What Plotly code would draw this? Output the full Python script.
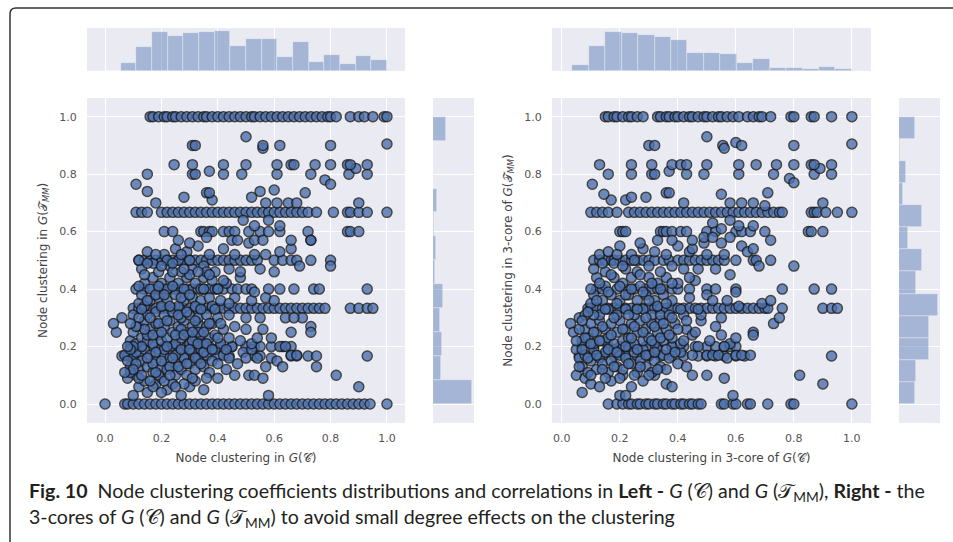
import plotly.graph_objects as go

# ---------------- DATA ----------------
# Left panel: x = node clustering in G(C), y = node clustering in G(T_MM)
left_rows = {
    1.0: [0.16,0.17,0.19,0.21,0.22,0.24,0.25,0.27,0.29,0.31,0.33,0.35,0.36,0.38,0.40,0.42,0.44,0.46,0.48,0.50,0.52,0.53,0.55,0.57,0.59,0.61,0.63,0.65,0.67,0.69,0.71,0.73,0.75,0.77,0.79,0.80,0.82,0.87,0.90,0.92,0.95,0.99,1.0],
    0.0: [0.0,0.07,0.08,0.10,0.12,0.14,0.16,0.18,0.20,0.22,0.24,0.26,0.28,0.30,0.32,0.34,0.36,0.38,0.40,0.42,0.44,0.46,0.48,0.50,0.52,0.54,0.56,0.58,0.60,0.62,0.64,0.66,0.68,0.70,0.72,0.74,0.76,0.78,0.80,0.82,0.84,0.86,0.88,0.90,0.92,0.94,1.0],
    0.667: [0.11,0.13,0.15,0.20,0.22,0.24,0.26,0.28,0.30,0.32,0.34,0.36,0.38,0.40,0.42,0.44,0.46,0.48,0.50,0.52,0.54,0.56,0.58,0.60,0.62,0.64,0.66,0.68,0.70,0.72,0.75,0.81,0.86,0.87,0.90,0.93,1.0],
    0.5: [0.12,0.14,0.16,0.18,0.20,0.22,0.24,0.26,0.28,0.30,0.32,0.34,0.36,0.38,0.40,0.42,0.44,0.46,0.48,0.50,0.52,0.54,0.60,0.63,0.66,0.68,0.73,0.80],
    0.333: [0.10,0.12,0.14,0.16,0.18,0.20,0.22,0.24,0.26,0.28,0.30,0.32,0.34,0.36,0.38,0.40,0.42,0.44,0.46,0.48,0.50,0.52,0.54,0.56,0.58,0.60,0.62,0.64,0.66,0.68,0.70,0.72,0.74,0.76,0.78,0.87,0.90,0.93,0.95],
    0.4: [0.11,0.14,0.17,0.19,0.21,0.23,0.25,0.27,0.29,0.31,0.33,0.35,0.37,0.39,0.40,0.42,0.45,0.47,0.50,0.52,0.58,0.62,0.67,0.74,0.76,0.93],
    0.6: [0.21,0.24,0.34,0.35,0.37,0.38,0.42,0.44,0.46,0.51,0.55,0.58,0.62,0.72,0.86,0.87,0.90],
    0.2: [0.09,0.13,0.17,0.21,0.25,0.29,0.33,0.37,0.41,0.45,0.50,0.53,0.55,0.59,0.63,0.66],
    0.167: [0.06,0.08,0.10,0.12,0.28,0.32,0.36,0.40,0.44,0.53,0.55,0.66,0.68,0.72,0.75,0.93],
}
left_cloud = [
    (0.10,0.03),(0.12,0.06),(0.15,0.04),(0.18,0.07),(0.22,0.05),(0.27,0.03),(0.30,0.06),(0.08,0.09),(0.11,0.10),(0.14,0.08),
    (0.20,0.09),(0.25,0.10),(0.35,0.05),(0.40,0.09),(0.46,0.10),(0.51,0.10),(0.53,0.10),(0.56,0.09),(0.58,0.03),
    (0.07,0.17),(0.09,0.13),(0.10,0.16),(0.12,0.12),(0.13,0.15),(0.14,0.19),(0.15,0.13),(0.16,0.17),(0.17,0.11),(0.18,0.15),
    (0.19,0.19),(0.20,0.13),(0.21,0.17),(0.22,0.12),(0.23,0.16),(0.24,0.20),(0.25,0.14),(0.26,0.18),(0.27,0.12),(0.28,0.16),
    (0.29,0.20),(0.30,0.14),(0.31,0.18),(0.32,0.12),(0.33,0.16),(0.34,0.19),(0.35,0.13),(0.36,0.17),(0.37,0.11),(0.38,0.15),
    (0.39,0.19),(0.40,0.14),(0.42,0.17),(0.43,0.12),(0.44,0.16),(0.45,0.20),(0.47,0.14),(0.49,0.18),(0.50,0.16),(0.52,0.19),
    (0.54,0.16),(0.57,0.13),(0.59,0.16),(0.61,0.15),(0.63,0.13),(0.66,0.17),(0.68,0.17),(0.75,0.13),(0.82,0.10),(0.90,0.06),
    (0.04,0.25),(0.03,0.28),(0.06,0.30),(0.09,0.22),(0.10,0.25),(0.11,0.21),(0.12,0.27),(0.13,0.23),(0.14,0.29),(0.15,0.22),
    (0.16,0.26),(0.17,0.21),(0.18,0.28),(0.19,0.24),(0.20,0.22),(0.21,0.27),(0.22,0.23),(0.23,0.29),(0.24,0.25),(0.25,0.21),
    (0.26,0.27),(0.27,0.23),(0.28,0.29),(0.29,0.25),(0.30,0.21),(0.31,0.27),(0.32,0.23),(0.33,0.28),(0.34,0.24),(0.35,0.21),
    (0.36,0.27),(0.37,0.23),(0.38,0.28),(0.39,0.24),(0.41,0.21),(0.42,0.26),(0.44,0.23),(0.46,0.27),(0.48,0.22),(0.50,0.26),
    (0.52,0.21),(0.54,0.23),(0.56,0.26),(0.59,0.23),(0.62,0.20),(0.64,0.20),(0.66,0.25),(0.70,0.30),(0.73,0.27),(0.73,0.25),
    (0.10,0.31),(0.12,0.35),(0.13,0.38),(0.14,0.42),(0.15,0.31),(0.16,0.36),(0.17,0.44),(0.18,0.32),(0.19,0.37),(0.20,0.42),
    (0.21,0.31),(0.22,0.36),(0.23,0.44),(0.24,0.32),(0.25,0.38),(0.26,0.42),(0.27,0.30),(0.28,0.36),(0.29,0.44),(0.30,0.31),
    (0.31,0.37),(0.32,0.42),(0.33,0.30),(0.34,0.36),(0.35,0.44),(0.36,0.31),(0.37,0.37),(0.38,0.43),(0.40,0.30),(0.41,0.36),
    (0.43,0.42),(0.44,0.31),(0.46,0.37),(0.48,0.44),(0.50,0.30),(0.52,0.36),(0.53,0.39),(0.55,0.30),(0.57,0.37),(0.60,0.36),
    (0.64,0.30),(0.67,0.30),
    (0.13,0.47),(0.15,0.53),(0.17,0.49),(0.19,0.46),(0.21,0.52),(0.23,0.48),(0.25,0.54),(0.27,0.46),(0.29,0.53),(0.31,0.47),
    (0.33,0.55),(0.35,0.48),(0.37,0.52),(0.39,0.46),(0.42,0.54),(0.44,0.47),(0.46,0.52),(0.48,0.46),(0.51,0.56),(0.53,0.52),
    (0.55,0.47),(0.57,0.52),(0.60,0.46),(0.62,0.53),(0.66,0.54),(0.69,0.48),(0.73,0.57),(0.80,0.48),
    (0.11,0.18),(0.13,0.20),(0.15,0.24),(0.17,0.14),(0.19,0.10),(0.21,0.19),(0.23,0.13),(0.25,0.17),(0.27,0.26),(0.29,0.10),
    (0.31,0.22),(0.33,0.25),(0.35,0.18),(0.16,0.40),(0.18,0.38),(0.20,0.34),(0.22,0.40),(0.24,0.46),(0.26,0.34),(0.28,0.40),
    (0.30,0.45),(0.32,0.34),(0.34,0.40),(0.36,0.46),(0.38,0.34),(0.40,0.40),(0.14,0.34),(0.12,0.30),(0.10,0.20),(0.08,0.15),
    (0.09,0.11),(0.12,0.09),(0.17,0.06),(0.20,0.04),(0.24,0.07),(0.28,0.07),(0.32,0.08),(0.36,0.09),(0.26,0.50),(0.30,0.50),
    (0.22,0.50),(0.18,0.52),
    (0.09,0.19),(0.11,0.14),(0.13,0.10),(0.14,0.26),(0.15,0.16),(0.16,0.08),(0.16,0.30),(0.17,0.24),(0.18,0.11),(0.18,0.18),
    (0.19,0.28),(0.19,0.41),(0.20,0.15),(0.20,0.25),(0.21,0.08),(0.21,0.38),(0.22,0.20),(0.22,0.29),(0.23,0.10),(0.23,0.34),
    (0.24,0.16),(0.24,0.41),(0.25,0.24),(0.25,0.06),(0.26,0.13),(0.26,0.31),(0.27,0.19),(0.27,0.37),(0.28,0.24),(0.28,0.47),
    (0.29,0.14),(0.29,0.32),(0.30,0.19),(0.30,0.38),(0.31,0.09),(0.31,0.25),(0.32,0.16),(0.32,0.29),(0.33,0.21),(0.33,0.46),
    (0.34,0.14),(0.34,0.33),(0.35,0.25),(0.35,0.40),(0.36,0.21),(0.37,0.28),(0.37,0.45),(0.38,0.19),(0.39,0.33),(0.40,0.23),
    (0.41,0.28),(0.42,0.43),(0.43,0.19),(0.44,0.35),(0.12,0.41),(0.13,0.33),(0.14,0.45),(0.15,0.36),(0.11,0.27),(0.10,0.12),
    (0.09,0.28),(0.08,0.20),(0.07,0.11),(0.12,0.50),(0.15,0.49),(0.20,0.48),(0.24,0.49),(0.27,0.52),
    (0.26,0.57),(0.30,0.56),(0.36,0.58),(0.45,0.57),(0.47,0.57),(0.53,0.57),(0.56,0.57),(0.62,0.62),(0.66,0.57),(0.73,0.57),
    (0.18,0.70),(0.28,0.72),(0.38,0.71),(0.52,0.72),(0.55,0.74),(0.57,0.70),(0.61,0.70),(0.65,0.70),(0.68,0.70),(0.90,0.70),
    (0.49,0.64),(0.53,0.62),(0.58,0.64),(0.15,0.74),(0.36,0.735),(0.37,0.735),(0.60,0.745),(0.71,0.735),(0.11,0.765),(0.78,0.78),
    (0.80,0.765),(0.15,0.80),(0.31,0.80),(0.32,0.80),(0.37,0.81),(0.42,0.80),(0.485,0.80),(0.61,0.80),(0.73,0.80),(0.865,0.80),
    (0.93,0.80),(0.89,0.82),(0.245,0.833),(0.31,0.833),(0.42,0.833),(0.50,0.833),(0.61,0.833),(0.66,0.833),(0.67,0.833),
    (0.745,0.833),(0.80,0.833),(0.86,0.833),(0.87,0.833),(0.93,0.833),(0.31,0.90),(0.32,0.90),(0.56,0.89),(0.56,0.90),
    (0.62,0.90),(0.80,0.90),(1.0,0.905),(0.50,0.93),
]

# Right panel: x = node clustering in 3-core of G(C), y = 3-core of G(T_MM)
right_rows = {
    1.0: [0.15,0.16,0.18,0.19,0.21,0.23,0.24,0.26,0.28,0.33,0.34,0.36,0.37,0.39,0.40,0.42,0.44,0.45,0.47,0.49,0.50,0.52,0.54,0.55,0.57,0.59,0.61,0.64,0.66,0.68,0.69,0.72,0.79,0.80,0.86,0.87,0.93,1.0],
    0.0: [0.16,0.19,0.21,0.23,0.24,0.26,0.27,0.29,0.30,0.32,0.33,0.35,0.36,0.38,0.39,0.41,0.42,0.44,0.45,0.47,0.48,0.55,0.56,0.59,0.60,0.64,0.65,0.71,0.79,0.80,1.0],
    0.667: [0.10,0.12,0.14,0.16,0.19,0.23,0.25,0.27,0.29,0.31,0.33,0.35,0.37,0.39,0.41,0.43,0.45,0.47,0.49,0.51,0.53,0.55,0.57,0.59,0.61,0.63,0.65,0.67,0.69,0.71,0.73,0.75,0.76,0.86,0.87,0.88,0.91,0.95,1.0],
    0.5: [0.11,0.13,0.15,0.17,0.18,0.20,0.22,0.24,0.26,0.28,0.30,0.32,0.35,0.37,0.40,0.42,0.44,0.46,0.48,0.50,0.52,0.54,0.56,0.60,0.66,0.67,0.72],
    0.333: [0.09,0.10,0.12,0.14,0.16,0.18,0.20,0.22,0.24,0.26,0.28,0.30,0.32,0.34,0.36,0.38,0.40,0.42,0.44,0.46,0.48,0.50,0.52,0.54,0.56,0.58,0.60,0.62,0.64,0.66,0.68,0.70,0.71,0.76,0.90,0.93,0.95],
    0.6: [0.20,0.21,0.22,0.34,0.35,0.36,0.38,0.41,0.43,0.50,0.53,0.60,0.62,0.65,0.70,0.85,0.86,0.90],
    0.4: [0.12,0.14,0.19,0.23,0.25,0.29,0.31,0.33,0.35,0.38,0.40,0.44,0.50,0.53,0.60,0.76,0.87,0.93],
    0.2: [0.07,0.11,0.16,0.20,0.24,0.29,0.33,0.38,0.42,0.46,0.50,0.53,0.56,0.58,0.60],
    0.167: [0.06,0.10,0.14,0.18,0.22,0.26,0.30,0.34,0.38,0.42,0.47,0.50,0.53,0.56,0.60,0.63,0.93],
}
right_cloud = [
    (0.07,0.04),(0.05,0.10),(0.08,0.09),(0.10,0.07),(0.13,0.06),(0.17,0.08),(0.21,0.10),(0.24,0.06),(0.28,0.08),(0.32,0.10),
    (0.36,0.07),(0.38,0.06),(0.45,0.10),(0.50,0.10),(0.56,0.09),(0.20,0.03),(0.22,0.03),(0.59,0.03),(0.82,0.10),(0.90,0.07),
    (0.05,0.19),(0.06,0.16),(0.07,0.13),(0.08,0.17),(0.09,0.11),(0.10,0.15),(0.11,0.19),(0.12,0.12),(0.13,0.16),(0.14,0.14),
    (0.15,0.18),(0.16,0.11),(0.17,0.15),(0.18,0.19),(0.19,0.13),(0.20,0.17),(0.21,0.12),(0.22,0.16),(0.23,0.20),(0.24,0.14),
    (0.25,0.18),(0.26,0.11),(0.27,0.15),(0.28,0.19),(0.29,0.13),(0.30,0.17),(0.31,0.11),(0.32,0.15),(0.33,0.19),(0.34,0.13),
    (0.35,0.17),(0.36,0.12),(0.37,0.16),(0.38,0.20),(0.40,0.14),(0.41,0.18),(0.43,0.13),(0.45,0.17),(0.47,0.20),(0.50,0.17),
    (0.52,0.17),(0.54,0.17),(0.57,0.16),(0.60,0.17),(0.62,0.17),(0.65,0.17),
    (0.03,0.28),(0.04,0.25),(0.06,0.30),(0.07,0.22),(0.08,0.26),(0.09,0.23),(0.10,0.28),(0.11,0.21),(0.12,0.25),(0.13,0.29),
    (0.14,0.22),(0.15,0.26),(0.16,0.23),(0.17,0.28),(0.18,0.21),(0.19,0.25),(0.20,0.29),(0.21,0.22),(0.22,0.26),(0.23,0.23),
    (0.24,0.28),(0.25,0.21),(0.26,0.25),(0.27,0.29),(0.28,0.22),(0.29,0.26),(0.30,0.23),(0.31,0.28),(0.32,0.21),(0.33,0.25),
    (0.34,0.29),(0.35,0.22),(0.36,0.26),(0.38,0.23),(0.39,0.28),(0.41,0.21),(0.43,0.26),(0.45,0.24),(0.48,0.29),(0.51,0.22),
    (0.53,0.27),(0.55,0.24),(0.58,0.21),(0.60,0.23),(0.56,0.20),(0.66,0.25),(0.66,0.24),(0.73,0.28),(0.75,0.30),
    (0.08,0.31),(0.10,0.35),(0.11,0.38),(0.12,0.44),(0.13,0.31),(0.14,0.36),(0.15,0.41),(0.16,0.33),(0.17,0.38),(0.18,0.44),
    (0.19,0.31),(0.20,0.36),(0.21,0.42),(0.22,0.33),(0.23,0.38),(0.24,0.44),(0.25,0.31),(0.26,0.36),(0.27,0.41),(0.28,0.33),
    (0.29,0.38),(0.30,0.44),(0.31,0.31),(0.32,0.36),(0.33,0.42),(0.34,0.31),(0.35,0.38),(0.36,0.44),(0.37,0.31),(0.38,0.36),
    (0.40,0.42),(0.42,0.31),(0.44,0.37),(0.46,0.43),(0.48,0.31),(0.50,0.38),(0.52,0.36),(0.55,0.30),(0.57,0.36),(0.60,0.39),
    (0.69,0.35),(0.72,0.36),(0.61,0.34),
    (0.11,0.47),(0.13,0.52),(0.15,0.46),(0.16,0.53),(0.18,0.49),(0.20,0.55),(0.22,0.47),(0.24,0.52),(0.26,0.46),(0.28,0.54),
    (0.30,0.48),(0.32,0.53),(0.34,0.46),(0.36,0.52),(0.38,0.48),(0.40,0.55),(0.42,0.47),(0.44,0.53),(0.47,0.47),(0.50,0.52),
    (0.53,0.47),(0.56,0.52),(0.58,0.45),(0.62,0.55),(0.64,0.53),(0.68,0.48),(0.80,0.48),(0.45,0.54),(0.49,0.56),
    (0.06,0.13),(0.07,0.19),(0.08,0.23),(0.09,0.16),(0.10,0.21),(0.10,0.10),(0.11,0.25),(0.11,0.31),(0.12,0.17),(0.12,0.36),
    (0.13,0.22),(0.13,0.42),(0.14,0.12),(0.14,0.27),(0.15,0.33),(0.15,0.09),(0.16,0.19),(0.16,0.39),(0.17,0.24),(0.17,0.45),
    (0.18,0.13),(0.18,0.30),(0.19,0.35),(0.19,0.18),(0.20,0.41),(0.20,0.09),(0.21,0.26),(0.21,0.48),(0.22,0.20),(0.22,0.38),
    (0.23,0.14),(0.23,0.31),(0.24,0.23),(0.24,0.40),(0.25,0.10),(0.25,0.27),(0.26,0.19),(0.26,0.33),(0.27,0.13),(0.27,0.45),
    (0.28,0.25),(0.28,0.39),(0.29,0.17),(0.29,0.30),(0.30,0.10),(0.30,0.36),(0.31,0.22),(0.31,0.42),(0.32,0.18),(0.32,0.27),
    (0.33,0.34),(0.33,0.12),(0.34,0.23),(0.34,0.40),(0.35,0.28),(0.36,0.19),(0.36,0.35),(0.37,0.24),(0.38,0.30),(0.38,0.42),
    (0.39,0.18),(0.40,0.26),(0.41,0.33),(0.42,0.22),(0.43,0.29),(0.44,0.44),(0.46,0.25),(0.47,0.33),(0.05,0.22),(0.06,0.26),
    (0.07,0.29),(0.09,0.32),(0.10,0.40),(0.14,0.49),(0.19,0.52),(0.25,0.50),
    (0.27,0.56),(0.33,0.57),(0.38,0.57),(0.45,0.57),(0.49,0.58),(0.52,0.58),(0.55,0.56),(0.58,0.58),(0.66,0.54),(0.72,0.57),
    (0.52,0.63),(0.55,0.61),(0.58,0.64),(0.61,0.62),(0.66,0.62),(0.17,0.71),(0.22,0.71),(0.24,0.72),(0.29,0.72),(0.42,0.70),
    (0.55,0.73),(0.58,0.70),(0.62,0.70),(0.66,0.70),(0.70,0.69),(0.90,0.70),(0.145,0.73),(0.36,0.735),(0.37,0.735),(0.71,0.735),
    (0.105,0.765),(0.785,0.785),(0.80,0.77),(0.16,0.80),(0.24,0.80),(0.31,0.80),(0.32,0.80),(0.37,0.81),(0.43,0.80),(0.49,0.80),
    (0.61,0.80),(0.73,0.80),(0.87,0.80),(0.93,0.80),(0.89,0.82),(0.13,0.833),(0.24,0.833),(0.31,0.833),(0.38,0.833),(0.41,0.833),
    (0.43,0.833),(0.50,0.833),(0.61,0.833),(0.67,0.833),(0.74,0.833),(0.80,0.833),(0.86,0.833),(0.87,0.833),(0.93,0.833),
    (0.30,0.90),(0.32,0.90),(0.555,0.90),(0.56,0.89),(0.60,0.91),(0.62,0.90),(0.80,0.90),(1.0,0.905),(0.50,0.93),
]

# Marginal histograms (bar heights)
left_top_bins = (0.0, 1.0)
left_top_counts = [1, 25, 73, 117, 107, 114, 117, 120, 77, 97, 97, 41, 87, 28, 49, 22, 44, 32]
left_side_bins = (0.0, 1.0)
left_side_counts = [117, 23, 27, 20, 30, 7, 10, 3, 13, 0, 0, 40]
right_top_bins = (0.036, 1.0)
right_top_counts = [17, 76, 119, 116, 109, 103, 93, 54, 54, 50, 24, 36, 10, 10, 6, 13, 6]
right_side_bins = (0.0, 1.0)
right_side_counts = [47, 50, 90, 90, 117, 50, 67, 27, 67, 12, 22, 3, 47]

tick_vals = [0.0, 0.2, 0.4, 0.6, 0.8, 1.0]
tick_text = ["0.0", "0.2", "0.4", "0.6", "0.8", "1.0"]

left_xlabel = "Node clustering in <i>G</i>(𝒞)"
left_ylabel = "Node clustering in <i>G</i>(𝒯<sub><i>MM</i></sub>)"
right_xlabel = "Node clustering in 3-core of <i>G</i>(𝒞)"
right_ylabel = "Node clustering in 3-core of <i>G</i>(𝒯<sub><i>MM</i></sub>)"
caption_1 = ("<b>Fig. 10</b>  Node clustering coefficients distributions and correlations in "
             "<b>Left -</b> <i>G</i> (𝒞) and <i>G</i> (𝒯<sub>MM</sub>), <b>Right -</b> the")
caption_2 = "3-cores of <i>G</i> (𝒞) and <i>G</i> (𝒯<sub>MM</sub>) to avoid small degree effects on the clustering"

# ---------------- FIGURE ----------------
W, H = 953, 542
BG = "#EAEAF2"
PT = "#4C72B0"
HIST = "rgba(76,114,176,0.44)"


def px(x):
    return x / W


def py(y):
    return 1 - y / H


def flatten(rows, cloud):
    xs, ys = [], []
    for yv, xl in rows.items():
        for xv in xl:
            xs.append(xv)
            ys.append(yv)
    for xv, yv in cloud:
        xs.append(xv)
        ys.append(yv)
    return xs, ys


def hist_geom(bins, counts):
    lo, hi = bins
    w = (hi - lo) / len(counts)
    centers = [lo + w * (i + 0.5) for i in range(len(counts))]
    return centers, w


fig = go.Figure()

panels = [
    dict(rows=left_rows, cloud=left_cloud, top=(left_top_bins, left_top_counts),
         side=(left_side_bins, left_side_counts), xr=[-0.064, 1.064],
         main_x=(87, 405), side_x=(433, 474), xl=left_xlabel, yl=left_ylabel),
    dict(rows=right_rows, cloud=right_cloud, top=(right_top_bins, right_top_counts),
         side=(right_side_bins, right_side_counts), xr=[-0.034, 1.066],
         main_x=(552, 871), side_x=(899, 940), xl=right_xlabel, yl=right_ylabel),
]
yr = [-0.066, 1.065]
main_y = (98, 423)
top_y = (28, 71)

tick_font = dict(family="DejaVu Sans", size=11, color="#555555")
title_font = dict(family="DejaVu Sans", size=12, color="#444444")

layout = dict(
    width=W, height=H, margin=dict(l=0, r=0, t=0, b=0),
    paper_bgcolor="white", plot_bgcolor=BG, showlegend=False,
    bargap=0,
)

for i, p in enumerate(panels):
    k = 3 * i
    ax_main, ax_top, ax_side = k + 1, k + 2, k + 3
    xs, ys = flatten(p["rows"], p["cloud"])
    fig.add_trace(go.Scatter(
        x=xs, y=ys, mode="markers",
        xaxis=f"x{ax_main}", yaxis=f"y{ax_main}",
        marker=dict(size=10, color=PT, opacity=0.8,
                    line=dict(color="#1c1c1c", width=1.5)),
        hoverinfo="skip"))
    c, w = hist_geom(*p["top"])
    fig.add_trace(go.Bar(
        x=c, y=p["top"][1], width=w, xaxis=f"x{ax_top}", yaxis=f"y{ax_top}",
        marker=dict(color=HIST, line=dict(color="rgba(255,255,255,0.6)", width=0.6)),
        hoverinfo="skip"))
    c, w = hist_geom(*p["side"])
    fig.add_trace(go.Bar(
        y=c, x=p["side"][1], width=w, orientation="h",
        xaxis=f"x{ax_side}", yaxis=f"y{ax_side}",
        marker=dict(color=HIST, line=dict(color="rgba(255,255,255,0.6)", width=0.6)),
        hoverinfo="skip"))

    mx = [px(p["main_x"][0]), px(p["main_x"][1])]
    sx = [px(p["side_x"][0]), px(p["side_x"][1])]
    my = [py(main_y[1]), py(main_y[0])]
    ty = [py(top_y[1]), py(top_y[0])]

    def key(prefix, n):
        return f"{prefix}axis" if n == 1 else f"{prefix}axis{n}"

    layout[key("x", ax_main)] = dict(
        domain=mx, anchor=f"y{ax_main}", range=p["xr"], tickvals=tick_vals, ticktext=tick_text,
        showgrid=True, gridcolor="white", gridwidth=1, zeroline=False, showline=False,
        ticks="outside", ticklen=5, tickcolor="rgba(0,0,0,0)", tickfont=tick_font,
        title=dict(text=p["xl"], font=title_font, standoff=9))
    layout[key("y", ax_main)] = dict(
        domain=my, anchor=f"x{ax_main}", range=yr, tickvals=tick_vals, ticktext=tick_text,
        showgrid=True, gridcolor="white", gridwidth=1, zeroline=False, showline=False,
        ticks="outside", ticklen=7, tickcolor="rgba(0,0,0,0)", tickfont=tick_font,
        title=dict(text=p["yl"], font=title_font, standoff=9))
    layout[key("x", ax_top)] = dict(
        domain=mx, anchor=f"y{ax_top}", range=p["xr"], tickvals=tick_vals,
        showticklabels=False, showgrid=True, gridcolor="white", zeroline=False, ticks="")
    layout[key("y", ax_top)] = dict(
        domain=ty, anchor=f"x{ax_top}", range=[0, 130], showticklabels=False,
        showgrid=False, zeroline=False, ticks="")
    layout[key("x", ax_side)] = dict(
        domain=sx, anchor=f"y{ax_side}", range=[0, 122], showticklabels=False,
        showgrid=False, zeroline=False, ticks="")
    layout[key("y", ax_side)] = dict(
        domain=my, anchor=f"x{ax_side}", range=yr, tickvals=tick_vals,
        showticklabels=False, showgrid=True, gridcolor="white", zeroline=False, ticks="")

fig.update_layout(**layout)

# frame with rounded top-left corner
x0, y0, r = px(10), py(8), 6
fig.add_shape(type="path", xref="paper", yref="paper",
              path=(f"M {x0},-0.02 L {x0},{py(8 + r)} Q {x0},{y0} {px(10 + r)},{y0} L 1.02,{y0}"),
              line=dict(color="#333333", width=1.5))

cap_font = dict(family="Lato", size=19.6, color="#231F20")
fig.add_annotation(text=caption_1, xref="paper", yref="paper", x=px(27), y=py(492),
                   xanchor="left", yanchor="middle", showarrow=False, font=cap_font)
fig.add_annotation(text=caption_2, xref="paper", yref="paper", x=px(27), y=py(518),
                   xanchor="left", yanchor="middle", showarrow=False, font=cap_font)

fig.write_html("out.html", config={"displayModeBar": False},
               post_script="document.body.style.margin='0';document.body.style.overflow='hidden';")
